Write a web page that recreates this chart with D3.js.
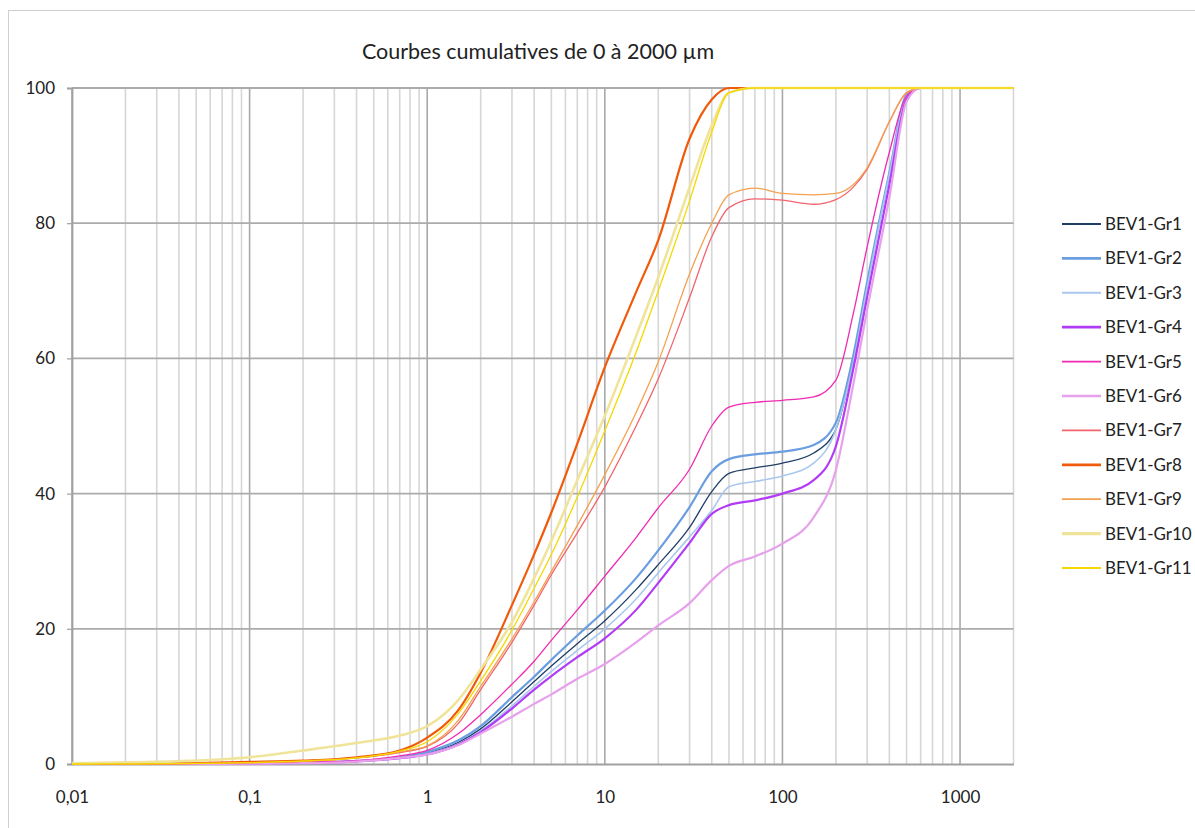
<!DOCTYPE html>
<html><head><meta charset="utf-8">
<script src="https://cdn.jsdelivr.net/npm/d3@7"></script>
<style>
body{margin:0;background:#fff}
svg{display:block}
text{font-family:Lato,"Open Sans",sans-serif;fill:#222}
</style>
</head><body>
<svg id="chart" width="1195" height="828"></svg>
<script>
const chartTitle = "Courbes cumulatives de 0 à 2000 µm";
const sizes = [0.01, 0.02, 0.05, 0.1, 0.2, 0.4, 0.7, 1, 1.5, 2, 3, 4, 5, 7, 10, 15, 20, 30, 40, 50, 70, 100, 150, 200, 250, 300, 400, 500, 600, 1000, 2000];
const seriesNames = ["BEV1-Gr1","BEV1-Gr2","BEV1-Gr3","BEV1-Gr4","BEV1-Gr5","BEV1-Gr6","BEV1-Gr7","BEV1-Gr8","BEV1-Gr9","BEV1-Gr10","BEV1-Gr11"];
const gr1  = [0, 0, 0.02, 0.05, 0.15, 0.4, 0.9, 1.6, 3.2, 5.2, 9.2, 12.2, 14.5, 17.8, 21.2, 25.8, 29.5, 35.0, 40.3, 43.0, 43.8, 44.5, 46.0, 49.5, 59.5, 70.8, 87.3, 98.8, 100, 100, 100];
const gr2  = [0, 0, 0.02, 0.05, 0.15, 0.45, 1.0, 1.8, 3.5, 5.6, 9.9, 12.9, 15.4, 19.0, 22.7, 27.5, 31.6, 38.0, 43.3, 45.1, 45.8, 46.2, 47.2, 50.5, 60.3, 71.3, 87.5, 99.0, 100, 100, 100];
const gr3  = [0, 0, 0.02, 0.05, 0.15, 0.4, 0.85, 1.5, 3.0, 4.9, 8.6, 11.5, 13.7, 16.8, 20.0, 24.4, 28.3, 33.6, 37.5, 41.0, 41.8, 42.6, 44.5, 49.5, 59.3, 70.5, 87.2, 98.8, 100, 100, 100];
const gr4  = [0, 0, 0.02, 0.05, 0.15, 0.4, 0.85, 1.4, 2.9, 4.7, 8.2, 11.0, 13.0, 15.8, 18.6, 22.8, 26.8, 32.7, 37.0, 38.3, 39.0, 40.0, 42.0, 47.0, 58.3, 69.1, 85.7, 98.3, 100, 100, 100];
const gr5  = [0, 0, 0.03, 0.1, 0.25, 0.5, 1.2, 2.0, 4.5, 7.3, 11.8, 15.2, 18.3, 22.8, 27.8, 33.5, 37.9, 43.6, 50.0, 52.8, 53.5, 53.8, 54.3, 56.8, 66.5, 76.5, 90.5, 98.8, 100, 100, 100];
const gr6  = [0, 0, 0.02, 0.05, 0.12, 0.35, 0.9, 1.4, 2.8, 4.5, 7.0, 8.9, 10.3, 12.6, 14.8, 18.0, 20.5, 23.8, 27.2, 29.3, 30.7, 32.6, 36.5, 43.5, 56.0, 67.2, 83.8, 98.0, 100, 100, 100];
const gr7  = [0, 0, 0.05, 0.2, 0.4, 0.9, 1.7, 2.6, 6.0, 11.0, 18.0, 23.5, 28.0, 34.2, 41.0, 50.0, 57.0, 69.0, 78.0, 82.3, 83.6, 83.4, 82.8, 83.5, 85.3, 88.0, 95.0, 99.3, 100, 100, 100];
const gr8  = [0, 0.05, 0.15, 0.3, 0.5, 1.0, 2.0, 3.9, 8.0, 13.5, 23.5, 31.0, 37.2, 47.4, 58.7, 69.8, 77.5, 92.5, 98.3, 100, 100, 100, 100, 100, 100, 100, 100, 100, 100, 100, 100];
const gr9  = [0, 0, 0.1, 0.2, 0.4, 0.9, 1.8, 2.7, 6.5, 11.5, 18.5, 24.0, 28.5, 35.3, 42.8, 52.0, 59.5, 72.5, 80.0, 84.2, 85.2, 84.4, 84.2, 84.4, 85.7, 88.2, 95.0, 99.3, 100, 100, 100];
const gr10 = [0.1, 0.25, 0.5, 1.0, 2.0, 3.1, 4.2, 5.6, 9.5, 14.0, 21.0, 27.5, 33.0, 42.0, 51.5, 63.3, 72.0, 85.3, 94.5, 99.3, 100, 100, 100, 100, 100, 100, 100, 100, 100, 100, 100];
const gr11 = [0, 0.02, 0.08, 0.2, 0.45, 0.9, 1.9, 3.3, 7.5, 12.3, 19.8, 26.0, 31.0, 39.5, 49.3, 60.9, 70.0, 83.3, 93.5, 99.3, 100, 100, 100, 100, 100, 100, 100, 100, 100, 100, 100];
const seriesValues = [gr1, gr2, gr3, gr4, gr5, gr6, gr7, gr8, gr9, gr10, gr11];
const seriesColors = ["#1f3f66","#6a9ee0","#a8c8ee","#b23cf5","#f02ab4","#e6a0ec","#f2646e","#f05a0a","#f5a050","#f0e49a","#f5d800"];
const seriesWidths = [1.3, 2.2, 1.6, 2.2, 1.3, 2.2, 1.3, 2.2, 1.3, 2.6, 1.3];
const yTickValues = [0, 20, 40, 60, 80, 100];
const xTickValues = [0.01, 0.1, 1, 10, 100, 1000];
const xTickLabels = ["0,01", "0,1", "1", "10", "100", "1000"];

const svg = d3.select("#chart");
const x = d3.scaleLog().domain([0.01, 2000]).range([72, 1013.5]);
const y = d3.scaleLinear().domain([0, 100]).range([764, 88]);

// outer border
svg.append("rect").attr("x", 8.5).attr("y", 10.5).attr("width", 1200).attr("height", 830)
  .attr("fill", "none").attr("stroke", "#cfcfcf").attr("stroke-width", 1);

// title
svg.append("text").attr("x", 538).attr("y", 59).attr("text-anchor", "middle")
  .style("font-size", "21.5px").text(chartTitle);

// vertical grid
const minor = [];
xTickValues.forEach(d => { for (let m = 2; m <= 9; m++) { const v = +(m * d).toPrecision(6); if (v <= 2000) minor.push(v); } });
svg.append("g").selectAll("line").data(minor).join("line")
  .attr("x1", d => x(d)).attr("x2", d => x(d)).attr("y1", y(0)).attr("y2", y(100))
  .attr("stroke", "#d6d6d6").attr("stroke-width", 1.6);
svg.append("g").selectAll("line").data(xTickValues).join("line")
  .attr("x1", d => x(d)).attr("x2", d => x(d)).attr("y1", y(0)).attr("y2", y(100))
  .attr("stroke", "#a9a9a9").attr("stroke-width", 1.6);
// horizontal grid
svg.append("g").selectAll("line").data(yTickValues.filter(v => v > 0)).join("line")
  .attr("x1", x(0.01)).attr("x2", x(2000)).attr("y1", d => y(d)).attr("y2", d => y(d))
  .attr("stroke", "#ababab").attr("stroke-width", 1.8);

// y axis
const yAxis = svg.append("g").attr("transform", `translate(${x(0.01)},0)`)
  .call(d3.axisLeft(y).tickValues(yTickValues).tickSize(5).tickPadding(12).tickFormat(d3.format("d")));
yAxis.select(".domain").attr("stroke", "#a0a0a0").attr("stroke-width", 1.8);
yAxis.selectAll(".tick line").attr("stroke", "#a0a0a0").attr("stroke-width", 1.2);
yAxis.selectAll("text").style("font-size", "17px").style("font-family", "Lato").attr("fill", "#222");

// x axis
const xAxis = svg.append("g").attr("transform", `translate(0,${y(0)})`)
  .call(d3.axisBottom(x).tickValues(xTickValues).tickSize(0).tickPadding(27)
    .tickFormat((d, i) => xTickLabels[i]));
xAxis.select(".domain").attr("stroke", "#a0a0a0").attr("stroke-width", 1.8);
xAxis.selectAll("text").style("font-size", "17px").style("font-family", "Lato").attr("fill", "#222");

// series
const line = d3.line().x(d => x(d[0])).y(d => y(d[1])).curve(d3.curveMonotoneX);
svg.append("g").selectAll("path").data(seriesValues).join("path")
  .attr("d", vals => line(sizes.map((s, i) => [s, vals[i]])))
  .attr("fill", "none")
  .attr("stroke", (d, i) => seriesColors[i])
  .attr("stroke-width", (d, i) => seriesWidths[i])
  .attr("stroke-linejoin", "round");

// legend
const lg = svg.append("g");
const items = lg.selectAll("g").data(seriesNames).join("g")
  .attr("transform", (d, i) => `translate(1062,${224 + i * 34.4})`);
items.append("line").attr("x1", 0).attr("x2", 39).attr("y1", 0).attr("y2", 0)
  .attr("stroke", (d, i) => seriesColors[i]).attr("stroke-width", (d, i) => seriesWidths[i] + 0.5);
items.append("text").attr("x", 43).attr("y", 0).attr("dy", "0.35em")
  .style("font-size", "17px").text(d => d);
</script>
</body></html>
